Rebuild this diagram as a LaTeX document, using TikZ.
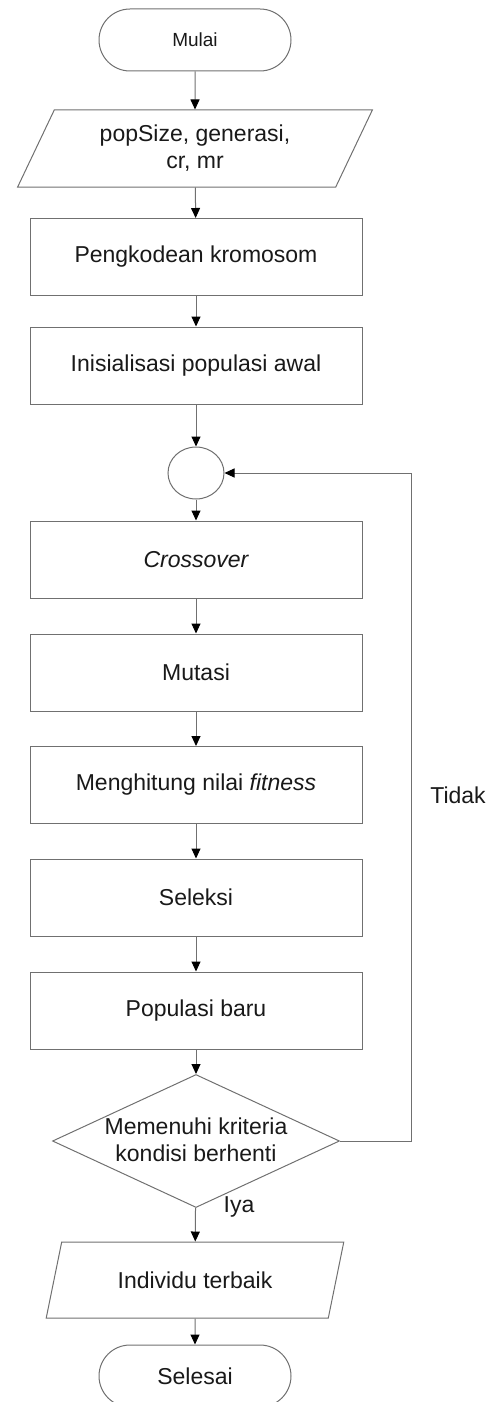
\documentclass[tikz,border=0pt]{standalone}
\usepackage{fontspec}
\setmainfont{Liberation Sans}
\usetikzlibrary{arrows.meta,shapes.geometric,positioning}
\definecolor{ln}{RGB}{112,112,112}
\definecolor{tx}{RGB}{25,25,25}
\begin{document}
\begin{tikzpicture}[x=1pt,y=1pt,
  every node/.style={text=tx},
  big/.style={font=\fontsize{23}{27}\selectfont},
  small/.style={font=\fontsize{19}{23}\selectfont},
  proc/.style={draw=ln,line width=1pt,rectangle,minimum width=332pt,minimum height=77pt,inner sep=0pt,big},
  term/.style={draw=ln,line width=1pt,rectangle,rounded corners=31pt,minimum width=192pt,minimum height=62pt,inner sep=0pt},
  io/.style={draw=ln,line width=1pt,trapezium,trapezium left angle=62,trapezium right angle=118,trapezium stretches=true,inner sep=0pt,big},
  conn/.style={draw=ln,line width=1pt,-{Triangle[width=9pt,length=10pt,color=black]}},
  lbl/.style={big,inner sep=0pt}]
\useasboundingbox (0,0) rectangle (491,-1402);
\begin{scope}
\clip (0,0) rectangle (491,-1402);
\node[term,small] (start) at (195,-40) {Mulai};
\node[io,minimum width=356pt,minimum height=77pt,align=center] (in1) at (195,-148.5) {popSize, generasi,\\cr, mr};
\node[proc] (p1) at (196,-257) {Pengkodean kromosom};
\node[proc] (p2) at (196,-365.5) {Inisialisasi populasi awal};
\node[draw=ln,line width=1pt,ellipse,minimum width=56pt,minimum height=52pt,inner sep=0pt] (jn) at (196,-473) {};
\node[proc] (p3) at (196,-559.5) {\itshape Crossover};
\node[proc] (p4) at (196,-672.5) {Mutasi};
\node[proc] (p5) at (196,-785) {Menghitung nilai \textit{fitness}};
\node[proc] (p6) at (196,-897.5) {Seleksi};
\node[proc] (p7) at (196,-1010.5) {Populasi baru};
\node[draw=ln,line width=1pt,diamond,minimum width=287pt,minimum height=133pt,inner sep=0pt] (dec) at (196,-1141) {};
\node[lbl,align=center] (dect) at (196,-1140) {Memenuhi kriteria\\kondisi berhenti};
\node[io,minimum width=298pt,minimum height=76pt] (out) at (195,-1280) {Individu terbaik};
\node[term,big] (stop) at (195,-1376) {Selesai};
\coordinate (r1) at (411,-1141);
\coordinate (r2) at (411,-473);
\node[lbl] (tidak) at (458,-795) {Tidak};
\node[lbl] (iya) at (239,-1207) {Iya};
\draw[conn] (start) -- (in1);
\draw[conn] (in1) -- (p1);
\draw[conn] (p1) -- (p2);
\draw[conn] (p2) -- (jn);
\draw[conn] (jn) -- (p3);
\draw[conn] (p3) -- (p4);
\draw[conn] (p4) -- (p5);
\draw[conn] (p5) -- (p6);
\draw[conn] (p6) -- (p7);
\draw[conn] (p7) -- (dec);
\draw[conn] (dec) -- (out);
\draw[conn] (out) -- (stop);
\draw[conn] (dec.east) -- (r1) -- (r2) -- (jn.east);
\end{scope}
\end{tikzpicture}
\end{document}
